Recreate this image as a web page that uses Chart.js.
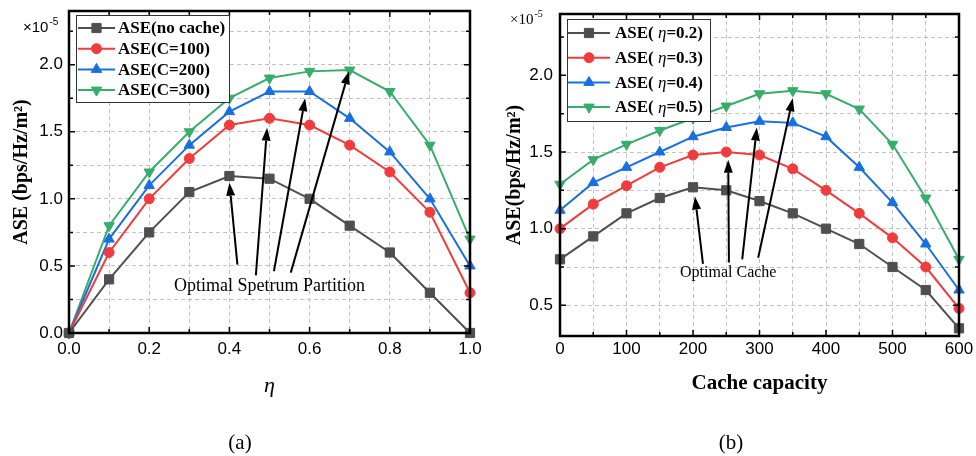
<!DOCTYPE html>
<html>
<head>
<meta charset="utf-8">
<script src="https://cdn.jsdelivr.net/npm/chart.js@4.4.1/dist/chart.umd.min.js"></script>
<style>
  html, body { margin: 0; padding: 0; background: #fff; }
  #wrap { position: relative; width: 976px; height: 456px; overflow: hidden; }
  canvas { position: absolute; top: 0; }
  #chartA { left: 0; }
  #chartB { left: 488px; }
</style>
</head>
<body>
<div id="wrap">
  <canvas id="chartA" width="488" height="456"></canvas>
  <canvas id="chartB" width="488" height="456"></canvas>
</div>
<script>
// ---- data (values in units of 1e-5 bps/Hz/m^2) ----
// (a) ASE vs spectrum partition eta
const etaValues = [0, 0.1, 0.2, 0.3, 0.4, 0.5, 0.6, 0.7, 0.8, 0.9, 1.0];
const aseNoCache = [0, 0.40, 0.75, 1.05, 1.17, 1.15, 1.00, 0.80, 0.60, 0.30, 0.00];
const aseC100 = [0, 0.60, 1.00, 1.30, 1.55, 1.60, 1.55, 1.40, 1.20, 0.90, 0.30];
const aseC200 = [0, 0.70, 1.10, 1.40, 1.65, 1.80, 1.80, 1.60, 1.35, 1.00, 0.50];
const aseC300 = [0, 0.80, 1.20, 1.50, 1.75, 1.90, 1.95, 1.96, 1.80, 1.40, 0.70];
const namesA = ['ASE(no cache)', 'ASE(C=100)', 'ASE(C=200)', 'ASE(C=300)'];

// (b) ASE vs cache capacity
const cacheValues = [0, 50, 100, 150, 200, 250, 300, 350, 400, 450, 500, 550, 600];
const aseEta02 = [0.80, 0.95, 1.10, 1.20, 1.27, 1.25, 1.18, 1.10, 1.00, 0.90, 0.75, 0.60, 0.35];
const aseEta03 = [1.00, 1.16, 1.28, 1.40, 1.48, 1.50, 1.48, 1.39, 1.25, 1.10, 0.94, 0.75, 0.48];
const aseEta04 = [1.12, 1.30, 1.40, 1.50, 1.60, 1.66, 1.70, 1.69, 1.60, 1.40, 1.17, 0.90, 0.60];
const aseEta05 = [1.29, 1.45, 1.55, 1.64, 1.72, 1.80, 1.88, 1.90, 1.88, 1.78, 1.55, 1.20, 0.80];
const etaNamesB = ['0.2', '0.3', '0.4', '0.5'];

// ticks
const xTicksA = [0, 0.1, 0.2, 0.3, 0.4, 0.5, 0.6, 0.7, 0.8, 0.9, 1.0];
const xLabelsA = [0, 0.2, 0.4, 0.6, 0.8, 1.0];
const yTicksA = [0, 0.25, 0.5, 0.75, 1.0, 1.25, 1.5, 1.75, 2.0, 2.25];
const xTicksB = [0, 50, 100, 150, 200, 250, 300, 350, 400, 450, 500, 550, 600];
const xLabelsB = [0, 100, 200, 300, 400, 500, 600];
const yTicksB = [0.5, 0.75, 1.0, 1.25, 1.5, 1.75, 2.0, 2.25];
const yLabels = [0, 0.5, 1.0, 1.5, 2.0];

// annotation arrows [tailX, tailY, tipX, tipY] in data units
const arrowsA = [[0.42, 0.51, 0.40, 1.12], [0.466, 0.43, 0.494, 1.53], [0.511, 0.46, 0.589, 1.75], [0.553, 0.45, 0.698, 1.95]];
const arrowsB = [[215, 0.77, 203, 1.21], [254, 0.78, 253, 1.45], [274, 0.80, 296, 1.66], [298, 0.81, 350, 1.85]];

const colors = ['#4f4f4f', '#f03c3c', '#1a6fdf', '#37ad6b'];
const styles = [['rect', 0, 6.5], ['circle', 0, 5], ['triangle', 0, 6], ['triangle', 180, 6]];

const SERIF = '"Liberation Serif", "Times New Roman", serif';
const SANS = '"Liberation Sans", Arial, sans-serif';

function makeSets(xs, series) {
  return series.map((ys, i) => ({
    data: xs.map((x, k) => ({ x: x, y: ys[k] })),
    borderColor: colors[i],
    backgroundColor: colors[i],
    borderWidth: 2,
    pointStyle: styles[i][0],
    pointRotation: styles[i][1],
    pointRadius: styles[i][2],
    pointBorderWidth: 1,
    tension: 0,
    clip: false
  }));
}

function drawArrow(ctx, x1, y1, x2, y2) {
  const ang = Math.atan2(y2 - y1, x2 - x1);
  const hl = 13, hw = 4.5;
  const bx = x2 - hl * Math.cos(ang), by = y2 - hl * Math.sin(ang);
  ctx.beginPath(); ctx.moveTo(x1, y1); ctx.lineTo(bx, by); ctx.stroke();
  ctx.beginPath();
  ctx.moveTo(x2, y2);
  ctx.lineTo(bx + hw * Math.sin(ang), by - hw * Math.cos(ang));
  ctx.lineTo(bx - hw * Math.sin(ang), by + hw * Math.cos(ang));
  ctx.closePath(); ctx.fill();
}

// frame, inner ticks, legend, annotations
const decorPlugin = {
  id: 'decor',
  afterDraw(chart, args, o) {
    const { ctx, chartArea: a, scales: { x, y } } = chart;
    ctx.save();
    ctx.strokeStyle = '#000';
    ctx.lineWidth = 1.5;
    x.ticks.forEach(t => {
      const px = x.getPixelForValue(t.value);
      const len = t.label ? 6 : 4;
      ctx.beginPath();
      ctx.moveTo(px, a.bottom); ctx.lineTo(px, a.bottom - len);
      ctx.moveTo(px, a.top); ctx.lineTo(px, a.top + len);
      ctx.stroke();
    });
    y.ticks.forEach(t => {
      const py = y.getPixelForValue(t.value);
      const len = t.label ? 6 : 4;
      ctx.beginPath();
      ctx.moveTo(a.left, py); ctx.lineTo(a.left + len, py);
      ctx.moveTo(a.right, py); ctx.lineTo(a.right - len, py);
      ctx.stroke();
    });
    ctx.lineWidth = 2.5;
    ctx.strokeRect(a.left, a.top, a.right - a.left, a.bottom - a.top);

    // arrows
    ctx.lineWidth = 2;
    ctx.fillStyle = '#000';
    o.arrows.forEach(r => drawArrow(ctx, x.getPixelForValue(r[0]), y.getPixelForValue(r[1]),
      x.getPixelForValue(r[2]), y.getPixelForValue(r[3])));
    ctx.font = o.note.font;
    ctx.textAlign = 'center';
    ctx.textBaseline = 'middle';
    ctx.fillText(o.note.text, x.getPixelForValue(o.note.x), y.getPixelForValue(o.note.y));

    // legend
    const lg = o.legend;
    const x0 = a.left + lg.dx, y0 = a.top + lg.dy;
    ctx.fillStyle = '#fff';
    ctx.fillRect(x0, y0, lg.w, lg.h);
    ctx.strokeStyle = '#333';
    ctx.lineWidth = 1;
    ctx.strokeRect(x0 + 0.5, y0 + 0.5, lg.w, lg.h);
    ctx.textAlign = 'left';
    chart.data.datasets.forEach((ds, i) => {
      const cy = y0 + lg.row0 + i * lg.rowH;
      ctx.strokeStyle = ds.borderColor;
      ctx.lineWidth = 2;
      ctx.beginPath(); ctx.moveTo(x0 + lg.lx, cy); ctx.lineTo(x0 + lg.lx + lg.lineW, cy); ctx.stroke();
      ctx.fillStyle = ds.backgroundColor;
      ctx.lineWidth = 1;
      Chart.helpers.drawPoint(ctx, { pointStyle: ds.pointStyle, rotation: ds.pointRotation, radius: ds.pointRadius, borderWidth: 1 },
        x0 + lg.lx + lg.lineW / 2, cy);
      let tx = x0 + lg.textX;
      ctx.fillStyle = '#000';
      lg.labels[i].forEach(p => {
        ctx.font = p[1];
        ctx.fillText(p[0], tx, cy + 1);
        tx += ctx.measureText(p[0]).width;
      });
    });

    // exponent
    const e = o.exp;
    ctx.fillStyle = '#000';
    ctx.font = e.font;
    ctx.fillText('×10', a.left + e.dx, e.y);
    const w = ctx.measureText('×10').width;
    ctx.font = e.supFont;
    ctx.fillText('-5', a.left + e.dx + w + 1, e.y - 6);

    // caption
    ctx.font = '21px ' + SERIF;
    ctx.textAlign = 'center';
    ctx.fillText(o.caption.text, o.caption.x, o.caption.y);
    ctx.restore();
  }
};

function fixedAxis(size, horizontal) {
  return s => {
    if (horizontal) s.height = size; else s.width = size;
    s.paddingLeft = 0; s.paddingRight = 0; s.paddingTop = 0; s.paddingBottom = 0;
  };
}

function baseOptions(cfg) {
  return {
    responsive: false,
    animation: false,
    devicePixelRatio: 1,
    layout: { padding: cfg.padding },
    plugins: { legend: { display: false }, tooltip: { enabled: false }, decor: cfg.decor },
    scales: {
      x: {
        type: 'linear', min: cfg.xMin, max: cfg.xMax,
        afterBuildTicks: s => { s.ticks = cfg.xTicks.map(v => ({ value: v })); },
        afterFit: fixedAxis(70, true),
        grid: { color: '#c2c2c2', lineWidth: 1, drawTicks: false },
        border: { display: false, dash: [4, 3] },
        ticks: {
          padding: cfg.xPad, color: '#000', maxRotation: 0, autoSkip: false,
          font: { family: SANS, size: 17 },
          callback: v => cfg.xLabels.some(l => Math.abs(l - v) < 1e-9) ? cfg.xFmt(v) : ''
        },
        title: { display: true, text: cfg.xTitle, color: '#000', font: cfg.xTitleFont, padding: { top: 0, bottom: cfg.xTitlePad } }
      },
      y: {
        type: 'linear', min: cfg.yMin, max: 2.4,
        afterBuildTicks: s => { s.ticks = cfg.yTicks.map(v => ({ value: v })); },
        afterFit: fixedAxis(cfg.yWidth, false),
        grid: { color: '#c2c2c2', lineWidth: 1, drawTicks: false },
        border: { display: false, dash: [4, 3] },
        ticks: {
          padding: cfg.yPad, color: '#000', autoSkip: false,
          font: { family: SANS, size: 17 },
          callback: v => yLabels.some(l => Math.abs(l - v) < 1e-9) ? v.toFixed(1) : ''
        },
        title: { display: true, text: cfg.yTitle, color: '#000', font: { family: SERIF, size: 20, weight: 'bold' }, padding: { top: cfg.yTitlePad, bottom: 0 } }
      }
    }
  };
}

const boldLeg = 'bold 17px ' + SERIF;
const italLeg = 'italic 17px ' + SERIF;

new Chart(document.getElementById('chartA'), {
  type: 'line',
  data: { datasets: makeSets(etaValues, [aseNoCache, aseC100, aseC200, aseC300]) },
  plugins: [decorPlugin],
  options: baseOptions({
    padding: { left: 0, right: 18, top: 11, bottom: 53 },
    xMin: 0, xMax: 1, xTicks: xTicksA, xLabels: xLabelsA, xFmt: v => v.toFixed(1), xPad: 6,
    xTitle: 'η', xTitleFont: { family: SERIF, size: 22, style: 'italic' }, xTitlePad: 4,
    yMin: 0, yTicks: yTicksA, yWidth: 69, yPad: 6,
    yTitle: 'ASE (bps/Hz/m²)', yTitlePad: 10,
    decor: {
      arrows: arrowsA,
      note: { text: 'Optimal Spetrum Partition', x: 0.5, y: 0.35, font: '18px ' + SERIF },
      legend: { dx: 7, dy: 4, w: 153, h: 87, row0: 13, rowH: 20.7, lx: 2, lineW: 37, textX: 42,
        labels: namesA.map(n => [[n, boldLeg]]) },
      exp: { dx: -46, y: 28, font: '15px ' + SANS, supFont: '10px ' + SANS },
      caption: { text: '(a)', x: 240, y: 443 }
    }
  })
});

new Chart(document.getElementById('chartB'), {
  type: 'line',
  data: { datasets: makeSets(cacheValues, [aseEta02, aseEta03, aseEta04, aseEta05]) },
  plugins: [decorPlugin],
  options: baseOptions({
    padding: { left: 0, right: 17, top: 14, bottom: 50 },
    xMin: 0, xMax: 600, xTicks: xTicksB, xLabels: xLabelsB, xFmt: v => String(v), xPad: 3,
    xTitle: 'Cache capacity', xTitleFont: { family: SERIF, size: 21, weight: 'bold' }, xTitlePad: 10,
    yMin: 0.3, yTicks: yTicksB, yWidth: 72, yPad: 7,
    yTitle: 'ASE(bps/Hz/m²)', yTitlePad: 15,
    decor: {
      arrows: arrowsB,
      note: { text: 'Optimal Cache', x: 253, y: 0.71, font: '16px ' + SERIF },
      legend: { dx: 7, dy: 5, w: 143, h: 102, row0: 14, rowH: 24.7, lx: 1, lineW: 42, textX: 48,
        labels: etaNamesB.map(n => [['ASE(', boldLeg], [' η', italLeg], ['=' + n + ')', boldLeg]]) },
      exp: { dx: -50, y: 20, font: '15px ' + SERIF, supFont: '10px ' + SERIF },
      caption: { text: '(b)', x: 243, y: 443 }
    }
  })
});
</script>
</body>
</html>
